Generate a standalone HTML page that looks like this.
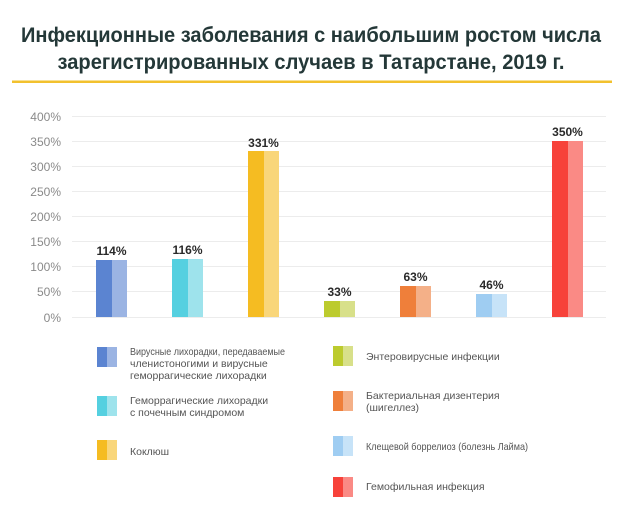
<!DOCTYPE html>
<html><head><meta charset="utf-8"><style>html,body{margin:0;padding:0;background:#fff}svg{display:block}</style></head><body>
<svg width="620" height="517" xmlns="http://www.w3.org/2000/svg" font-family="'Liberation Sans', sans-serif">
<g fill="#243838" font-weight="bold" font-size="21" text-anchor="middle">
<text x="311" y="42" textLength="580" lengthAdjust="spacingAndGlyphs">Инфекционные заболевания с наибольшим ростом числа</text>
<text x="311" y="69" textLength="507" lengthAdjust="spacingAndGlyphs">зарегистрированных случаев в Татарстане, 2019 г.</text>
</g>
<rect x="12" y="80.5" width="600" height="2.5" fill="#f2c12e"/>
<g stroke="#ececec" stroke-width="1">
<line x1="72" x2="606" y1="116.5" y2="116.5"/><line x1="72" x2="606" y1="141.5" y2="141.5"/>
<line x1="72" x2="606" y1="166.5" y2="166.5"/><line x1="72" x2="606" y1="191.5" y2="191.5"/>
<line x1="72" x2="606" y1="216.5" y2="216.5"/><line x1="72" x2="606" y1="241.5" y2="241.5"/>
<line x1="72" x2="606" y1="266.5" y2="266.5"/><line x1="72" x2="606" y1="291.5" y2="291.5"/>
<line x1="72" x2="606" y1="317.5" y2="317.5"/>
</g>
<g fill="#8a8a8a" font-size="12" text-anchor="end">
<text x="61" y="121">400%</text><text x="61" y="146">350%</text><text x="61" y="171">300%</text>
<text x="61" y="196">250%</text><text x="61" y="221">200%</text><text x="61" y="246">150%</text>
<text x="61" y="271">100%</text><text x="61" y="296">50%</text><text x="61" y="322">0%</text>
</g>
<g>
<rect x="96" y="260" width="16" height="57" fill="#5b84d1"/><rect x="112" y="260" width="15" height="57" fill="#9bb4e3"/>
<rect x="172" y="259" width="16" height="58" fill="#55d0e0"/><rect x="188" y="259" width="15" height="58" fill="#9ee3ec"/>
<rect x="248" y="151" width="16" height="166" fill="#f5bc22"/><rect x="264" y="151" width="15" height="166" fill="#f9d67a"/>
<rect x="324" y="301" width="16" height="16" fill="#bccb2e"/><rect x="340" y="301" width="15" height="16" fill="#d8e08a"/>
<rect x="400" y="286" width="16" height="31" fill="#ef7f3a"/><rect x="416" y="286" width="15" height="31" fill="#f4b088"/>
<rect x="476" y="294" width="16" height="23" fill="#9fcdf2"/><rect x="492" y="294" width="15" height="23" fill="#c7e3f8"/>
<rect x="552" y="141" width="16" height="176" fill="#f7423a"/><rect x="568" y="141" width="15" height="176" fill="#fa8a85"/>
</g>
<g fill="#2a2a2a" font-size="12" font-weight="bold" text-anchor="middle">
<text x="111.5" y="255">114%</text><text x="187.5" y="254">116%</text><text x="263.5" y="147">331%</text>
<text x="339.5" y="296">33%</text><text x="415.5" y="281">63%</text><text x="491.5" y="289">46%</text>
<text x="567.5" y="136">350%</text>
</g>
<g>
<rect x="97" y="347" width="10" height="20" fill="#5b84d1"/><rect x="107" y="347" width="10" height="20" fill="#9bb4e3"/>
<rect x="97" y="396" width="10" height="20" fill="#55d0e0"/><rect x="107" y="396" width="10" height="20" fill="#9ee3ec"/>
<rect x="97" y="440" width="10" height="20" fill="#f5bc22"/><rect x="107" y="440" width="10" height="20" fill="#f9d67a"/>
<rect x="333" y="346" width="10" height="20" fill="#bccb2e"/><rect x="343" y="346" width="10" height="20" fill="#d8e08a"/>
<rect x="333" y="391" width="10" height="20" fill="#ef7f3a"/><rect x="343" y="391" width="10" height="20" fill="#f4b088"/>
<rect x="333" y="436" width="10" height="20" fill="#9fcdf2"/><rect x="343" y="436" width="10" height="20" fill="#c7e3f8"/>
<rect x="333" y="477" width="10" height="20" fill="#f7423a"/><rect x="343" y="477" width="10" height="20" fill="#fa8a85"/>
</g>
<g fill="#555" font-size="10.5">
<text x="130" y="355" textLength="155" lengthAdjust="spacingAndGlyphs">Вирусные лихорадки, передаваемые</text>
<text x="130" y="367">членистоногими и вирусные</text>
<text x="130" y="379">геморрагические лихорадки</text>
<text x="130" y="404">Геморрагические лихорадки</text>
<text x="130" y="416">с почечным синдромом</text>
<text x="130" y="455">Коклюш</text>
<text x="366" y="360">Энтеровирусные инфекции</text>
<text x="366" y="399">Бактериальная дизентерия</text>
<text x="366" y="411">(шигеллез)</text>
<text x="366" y="450" textLength="162" lengthAdjust="spacingAndGlyphs">Клещевой боррелиоз (болезнь Лайма)</text>
<text x="366" y="490">Гемофильная инфекция</text>
</g>
</svg>
</body></html>
